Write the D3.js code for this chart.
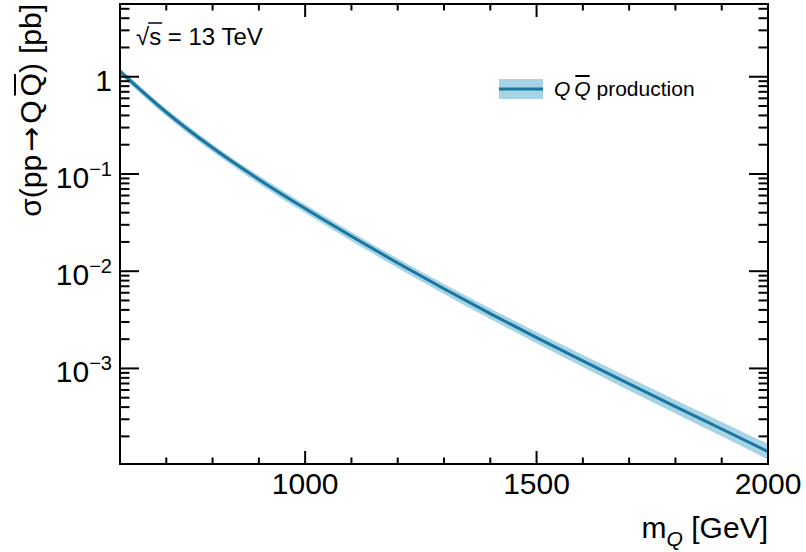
<!DOCTYPE html>
<html>
<head>
<meta charset="utf-8">
<script src="https://cdn.jsdelivr.net/npm/d3@7"></script>
<style>
  body { margin: 0; background: #fff; }
  text { font-family: "Liberation Sans", Arial, sans-serif; fill: #000; }
</style>
</head>
<body>
<div id="chart"></div>
<script>
// masses (GeV) and cross section (pb)
const mass = [600, 700, 800, 900, 1000, 1100, 1200, 1300, 1400, 1500, 1600, 1700, 1800, 1900, 2000];
const xsec = [1.135, 0.4315, 0.1858, 0.0879, 0.04406, 0.02286, 0.01213, 0.006592, 0.003664,
              0.002075, 0.001194, 0.000695, 0.0004055, 0.0002382, 0.0001396];
// relative uncertainty in percent
const errUp   = [8, 8.5, 9, 9.5, 10, 11, 11.5, 12, 13, 14, 15, 16, 17, 18, 20];
const errDown = [8, 8.5, 9, 9.5, 10, 10.5, 11, 11.5, 12, 12.5, 13.5, 14.5, 15, 16, 17];

const xMajor = [1000, 1500, 2000];
const yMajor = [1, 0.1, 0.01, 0.001];
const yLabelExp = ["", "\u22121", "\u22122", "\u22123"];

const W = 806, H = 552;
const pLeft = 120, pRight = 768, pTop = 4, pBottom = 464;

const svg = d3.select("#chart").append("svg")
    .attr("width", W).attr("height", H);

const x = d3.scaleLinear().domain([600, 2000]).range([pLeft, pRight]);
const y = d3.scaleLog().domain([1.04e-4, 5.6]).range([pBottom, pTop]);

const pts = mass.map((m, i) => ({ m: m, v: xsec[i], up: errUp[i], dn: errDown[i] }));

svg.append("clipPath").attr("id", "clip")
    .append("rect").attr("x", pLeft).attr("y", pTop)
    .attr("width", pRight - pLeft).attr("height", pBottom - pTop);

const plot = svg.append("g").attr("clip-path", "url(#clip)");

// band
const area = d3.area()
    .x(d => x(d.m))
    .y0(d => y(d.v * (1 - d.dn / 100)))
    .y1(d => y(d.v * (1 + d.up / 100)))
    .curve(d3.curveMonotoneX);
plot.append("path").datum(pts)
    .attr("d", area)
    .attr("fill", "#a6d4e5");

// central line
const line = d3.line()
    .x(d => x(d.m))
    .y(d => y(d.v))
    .curve(d3.curveMonotoneX);
plot.append("path").datum(pts)
    .attr("d", line)
    .attr("fill", "none")
    .attr("stroke", "#1a76a0")
    .attr("stroke-width", 3);

// ticks
const tk = svg.append("g").attr("stroke", "#000").attr("stroke-width", 2);
const xMinor = d3.range(600, 2001, 100);
xMinor.forEach(v => {
    const len = xMajor.includes(v) ? 13 : 6.5;
    tk.append("line").attr("x1", x(v)).attr("x2", x(v)).attr("y1", pBottom).attr("y2", pBottom - len);
    tk.append("line").attr("x1", x(v)).attr("x2", x(v)).attr("y1", pTop).attr("y2", pTop + len);
});
const yTicks = y.ticks().filter(v => y(v) >= pTop && y(v) <= pBottom);
yTicks.forEach(v => {
    const major = Math.abs(Math.log10(v) - Math.round(Math.log10(v))) < 1e-6;
    const len = major ? 19 : 9.5;
    tk.append("line").attr("x1", pLeft).attr("x2", pLeft + len).attr("y1", y(v)).attr("y2", y(v));
    tk.append("line").attr("x1", pRight).attr("x2", pRight - len).attr("y1", y(v)).attr("y2", y(v));
});

// frame
svg.append("rect")
    .attr("x", pLeft).attr("y", pTop)
    .attr("width", pRight - pLeft).attr("height", pBottom - pTop)
    .attr("fill", "none").attr("stroke", "#000").attr("stroke-width", 2);

// x labels
svg.selectAll(".xl").data(xMajor).join("text")
    .attr("class", "xl")
    .attr("x", d => x(d)).attr("y", 494)
    .attr("text-anchor", "middle")
    .attr("font-size", 30)
    .text(d => d);

// y labels
yMajor.forEach((v, i) => {
    const t = svg.append("text")
        .attr("x", 112).attr("y", y(v) + 14)
        .attr("text-anchor", "end")
        .attr("font-size", 30);
    if (yLabelExp[i] === "") {
        t.text("1");
    } else {
        t.append("tspan").text("10");
        t.append("tspan").attr("font-size", 20).attr("dy", -12).text(yLabelExp[i]);
    }
});

// x title
const xt = svg.append("text")
    .attr("x", pRight).attr("y", 538)
    .attr("text-anchor", "end")
    .attr("font-size", 30);
xt.append("tspan").text("m");
xt.append("tspan").attr("font-size", 21).attr("font-style", "italic").attr("dy", 8).text("Q");
xt.append("tspan").attr("dy", -8).text(" [GeV]");

// y title
const yg = svg.append("g").attr("transform", `translate(41,${pTop}) rotate(-90)`);
const yt = yg.append("text")
    .attr("x", 0).attr("y", 0)
    .attr("text-anchor", "end")
    .attr("font-size", 30);
yt.append("tspan").text("\u03c3(pp");
yt.append("tspan").attr("dx", 3).style("font-family", "'DejaVu Sans'").text("\u2192");
yt.append("tspan").attr("dx", 3).text("Q");
yt.append("tspan").attr("dx", 4).text("Q");
yt.append("tspan").text(")");
yt.append("tspan").attr("dx", 9).text("[pb]");
{
    const s = yt.node().getStartPositionOfChar(6);
    const e = yt.node().getEndPositionOfChar(6);
    yg.append("line")
        .attr("x1", s.x + 1).attr("x2", e.x - 1)
        .attr("y1", -26).attr("y2", -26)
        .attr("stroke", "#000").attr("stroke-width", 2);
}

// sqrt(s) = 13 TeV
const st = svg.append("text")
    .attr("x", 136).attr("y", 45)
    .attr("font-size", 24)
    .text("\u221as = 13 TeV");
{
    const r = st.node().getExtentOfChar(0);
    const e = st.node().getEndPositionOfChar(1);
    svg.append("line")
        .attr("x1", r.x + r.width - 1).attr("x2", e.x + 1)
        .attr("y1", 23).attr("y2", 23)
        .attr("stroke", "#000").attr("stroke-width", 1.5);
}

// legend
svg.append("rect")
    .attr("x", 499).attr("y", 79).attr("width", 44).attr("height", 20)
    .attr("fill", "#a6d4e5");
svg.append("line")
    .attr("x1", 499).attr("x2", 543).attr("y1", 89).attr("y2", 89)
    .attr("stroke", "#1a76a0").attr("stroke-width", 3);
const lt = svg.append("text")
    .attr("x", 554).attr("y", 96)
    .attr("font-size", 21);
lt.append("tspan").attr("font-style", "italic").text("Q");
lt.append("tspan").attr("font-style", "italic").attr("dx", 4).text("Q");
lt.append("tspan").text(" production");
{
    const s = lt.node().getStartPositionOfChar(1);
    const e = lt.node().getEndPositionOfChar(1);
    svg.append("line")
        .attr("x1", s.x + 1).attr("x2", e.x - 1)
        .attr("y1", 76).attr("y2", 76)
        .attr("stroke", "#000").attr("stroke-width", 2);
}
</script>
</body>
</html>
